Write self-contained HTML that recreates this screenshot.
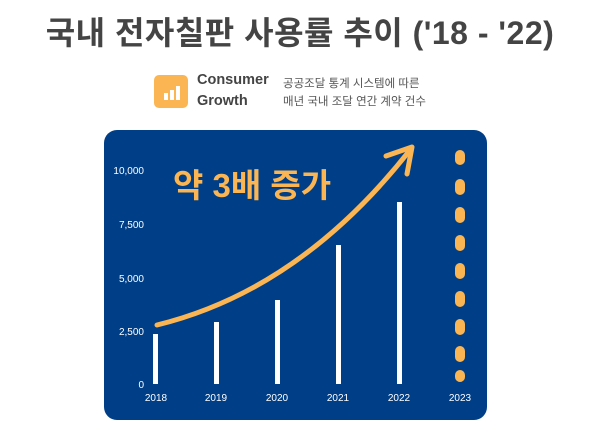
<!DOCTYPE html>
<html><head><meta charset="utf-8"><style>
body{margin:0;width:600px;height:439px;background:#fff;overflow:hidden;font-family:"Liberation Sans","Noto Sans CJK KR",sans-serif;position:relative}
.t{position:absolute;left:0;width:600px;top:8px;text-align:center;font-size:32px;font-weight:bold;color:#444;letter-spacing:0.5px}
.icon{position:absolute;left:154px;top:75px;width:34px;height:33px;background:#fbb552;border-radius:5px}
.cg{position:absolute;left:197px;top:70px;font-size:14.5px;font-weight:bold;color:#444;line-height:21px}
.sub{position:absolute;left:283px;top:75px;font-size:11.5px;color:#555;line-height:18px}
</style></head><body>
<div class="t">국내 전자칠판 사용률 추이 ('18 - '22)</div>
<div class="icon"><svg width="34" height="33"><rect x="10" y="18" width="4" height="7" fill="#fff"/><rect x="16" y="15" width="4" height="10" fill="#fff"/><rect x="22" y="11" width="4" height="14" fill="#fff"/></svg></div>
<div class="cg">Consumer<br>Growth</div>
<div class="sub">공공조달 통계 시스템에 따른<br>매년 국내 조달 연간 계약 건수</div>
<svg style="position:absolute;left:0;top:0" width="600" height="439">
<rect x="104" y="130" width="383" height="290" rx="13" fill="#003f87"/>
<g font-size="10" fill="#fff" font-family="Liberation Sans,sans-serif">
<text x="144" y="174" text-anchor="end">10,000</text>
<text x="144" y="228" text-anchor="end">7,500</text>
<text x="144" y="282" text-anchor="end">5,000</text>
<text x="144" y="335" text-anchor="end">2,500</text>
<text x="144" y="388" text-anchor="end">0</text>
<g text-anchor="middle"><text x="156" y="401">2018</text><text x="216" y="401">2019</text><text x="277" y="401">2020</text><text x="338" y="401">2021</text><text x="399" y="401">2022</text><text x="460" y="401">2023</text></g>
</g>
<g fill="#fff">
<rect x="153" y="334" width="5" height="50"/><rect x="214" y="322" width="5" height="62"/><rect x="275" y="300" width="5" height="84"/><rect x="336" y="245" width="5" height="139"/><rect x="397" y="202" width="5" height="182"/>
</g>
<g fill="#fbb552">
<rect x="455" y="150" width="10" height="15" rx="5"/><rect x="455" y="179" width="10" height="16" rx="5"/><rect x="455" y="207" width="10" height="16" rx="5"/><rect x="455" y="235" width="10" height="16" rx="5"/><rect x="455" y="263" width="10" height="16" rx="5"/><rect x="455" y="291" width="10" height="16" rx="5"/><rect x="455" y="319" width="10" height="16" rx="5"/><rect x="455" y="346" width="10" height="16" rx="5"/><rect x="455" y="370" width="10" height="12" rx="5"/>
</g>
<path d="M157 325 Q300 290 410 150" stroke="#fbb552" stroke-width="5" fill="none" stroke-linecap="round"/>
<path d="M386 156 L412 147 L407 174" stroke="#fbb552" stroke-width="5" fill="none" stroke-linecap="round" stroke-linejoin="round"/>
<text x="173" y="197" font-size="33" font-weight="bold" fill="#fbb552" font-family="Liberation Sans,Noto Sans CJK KR,sans-serif">약 3배 증가</text>
</svg>
</body></html>
